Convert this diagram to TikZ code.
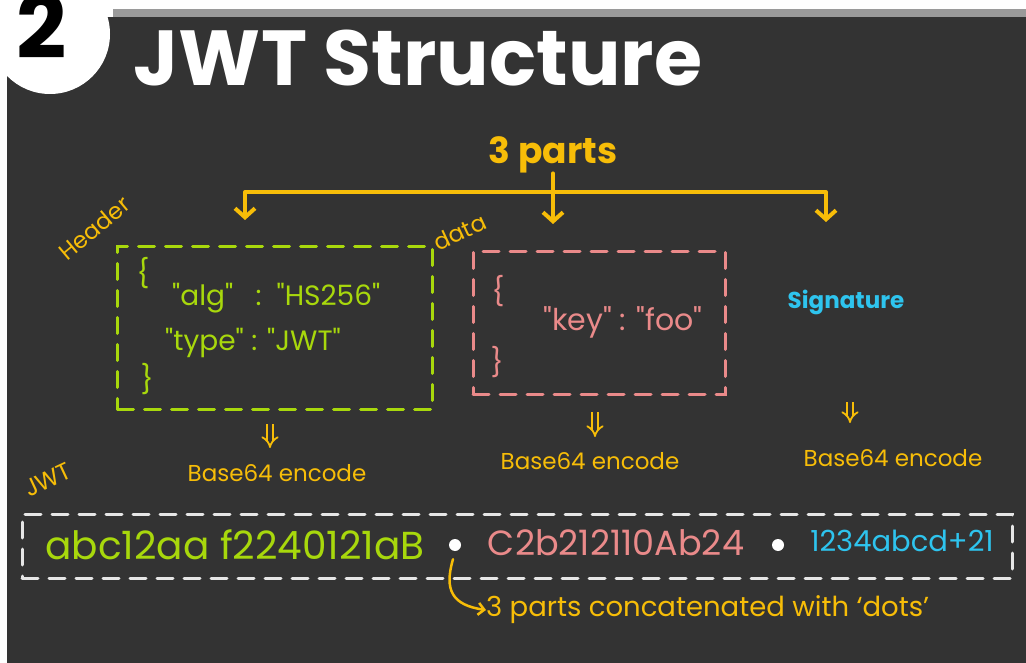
\documentclass[tikz,border=0pt]{standalone}
\usepackage{fontspec}
\setmainfont{Poppins}
\newfontfamily\codefont{Poppins}
\usetikzlibrary{arrows.meta}
\definecolor{bg}{HTML}{333333}
\definecolor{bar}{HTML}{9A9A9A}
\definecolor{ylw}{HTML}{F7BD08}
\definecolor{lime}{HTML}{A8D80C}
\definecolor{pink}{HTML}{EA8A8A}
\definecolor{cyanc}{HTML}{2EC4EE}
\definecolor{wdash}{HTML}{E6E6E6}
\newcommand{\fs}[1]{\fontsize{#1}{#1}\selectfont}
\tikzset{
  dbox/.style={line width=3pt, dash pattern=on 16pt off 11pt, line cap=round, minimum width=#1},
  lbl/.style={text=ylw, font=\fs{23}, inner sep=0pt},
  brk/.style={draw=ylw, line width=4pt, line cap=round, line join=round},
  downarr/.style={draw=ylw, line width=4pt, -{Straight Barb[length=9pt,width=20pt]}},
  dblarr/.style={draw=ylw, line width=1.8pt, double=bg, double distance=4pt, -{Implies[length=6pt]}},
  txt/.style={inner sep=0pt},
}
\begin{document}
\begin{tikzpicture}[x=1pt,y=-1pt]
\useasboundingbox (0,0) rectangle (1026,663);
\fill[white] (0,0) rectangle (1026,663);
\fill[bar] (113,9) rectangle (1026,17);
\fill[bg] (7,17) rectangle (1026,663);
\fill[white] (50,34) circle (60pt);
\node[txt, text=black, font=\fs{88}\bfseries] (two) at (42,26) {2};
\node[txt, text=white, font=\fs{78}\bfseries] (title) at (418,58) {JWT Structure};

% 3 parts bracket
\node[txt, text=ylw, font=\fs{36}\bfseries] (three) at (553,155) {3 parts};
\coordinate (bl) at (245,192);
\coordinate (bm) at (553,192);
\coordinate (br) at (826,192);
\draw[brk] (bl) -- (br);
\draw[brk] (three.south) -- (bm);
\coordinate (tl) at (245,220);
\coordinate (tm) at (553,224);
\coordinate (tr) at (826,222);
\draw[downarr] (bl) -- (tl);
\draw[downarr] (bm) -- (tm);
\draw[downarr] (br) -- (tr);

% Header
\node[draw=lime, dbox=315pt, minimum height=163pt] (hdr) at (275,328) {};
\node[lbl, rotate=40] (hlbl) at (94,228) {Header};
\node[txt, text=lime, font=\fs{28}] (hob) at (143,273) {\{};
\node[txt, text=lime, font=\codefont\fs{28}, anchor=west] (alg) at (172,298) {"alg"\ \ \ :\ \ "HS256"};
\node[txt, text=lime, font=\codefont\fs{28}, anchor=west] (typ) at (165,343) {"type" : "JWT"};
\node[txt, text=lime, font=\fs{28}] (hcb) at (147,379) {\}};

% data
\node[draw=pink, dbox=252pt, minimum height=143pt] (dat) at (599,323) {};
\node[lbl, rotate=25] (dlbl) at (460,232) {data};
\node[txt, text=pink, font=\fs{28}] (dob) at (498,291) {\{};
\node[txt, text=pink, font=\codefont\fs{30}] (key) at (623,322) {"key" : "foo"};
\node[txt, text=pink, font=\fs{28}] (dcb) at (497,362) {\}};

% signature
\node[txt, text=cyanc, font=\fs{23}\bfseries] (sig) at (846,302) {Signature};

% base64
\node[lbl] (b1) at (277,473) {Base64 encode};
\node[lbl] (b2) at (590,461) {Base64 encode};
\node[lbl] (b3) at (893,458) {Base64 encode};
\coordinate (a1) at (270,424);
\coordinate (a2) at (595,412);
\coordinate (a3) at (850,402);
\draw[dblarr] (a1) -- (270,448);
\draw[dblarr] (a2) -- (595,437);
\draw[dblarr] (a3) -- (850,423);

% JWT
\node[lbl, font=\fs{24}, rotate=25] (jlbl) at (48,480) {JWT};
\node[draw=wdash, dbox=990pt, minimum height=64pt] (jwt) at (517,546) {};
\node[txt, text=lime, font=\fs{39}] (p1) at (235,545) {abc12aa f2240121aB};
\node[circle, fill=white, inner sep=0pt, minimum size=12pt] (d1) at (455,545) {};
\node[txt, text=pink, font=\fs{35}] (p2) at (616,543) {C2b212110Ab24};
\node[circle, fill=white, inner sep=0pt, minimum size=12pt] (d2) at (778,545) {};
\node[txt, text=cyanc, font=\fs{29}] (p3) at (902,541) {1234abcd+21};

\node[lbl, font=\fs{27.5}, anchor=west] (note) at (486,610) {3 parts concatenated with ‘dots’};
\draw[ylw, line width=2.5pt, line cap=round, -{Straight Barb[length=6pt,width=12pt]}]
  (d1.south) ++(-2,8) .. controls (444,590) and (452,605) .. (note.west);
\end{tikzpicture}
\end{document}
